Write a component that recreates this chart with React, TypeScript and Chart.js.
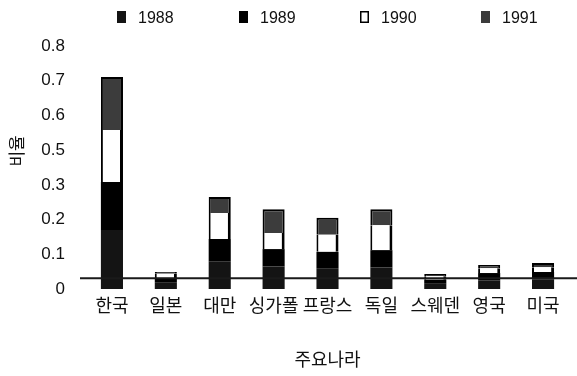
import { useEffect, useRef } from 'react';
import { Chart, registerables } from 'chart.js';

Chart.register(...registerables);

// Categories (countries) and series (years)
const categories = ['한국', '일본', '대만', '싱가폴', '프랑스', '독일', '스웨덴', '영국', '미국'];
const seriesLabels = ['1988', '1989', '1990', '1991'];

// Segment heights in the evenly spaced axis units
// (the original axis labels skip "0.4", so labels above 0.3 are offset by one step)
const values1988 = [0.17, 0.018, 0.08, 0.065, 0.06, 0.062, 0.015, 0.025, 0.027];
const values1989 = [0.138, 0.014, 0.064, 0.05, 0.047, 0.05, 0.012, 0.021, 0.022];
const values1990 = [0.15, 0.012, 0.075, 0.046, 0.049, 0.072, 0.01, 0.014, 0.014];
const values1991 = [0.153, 0.005, 0.046, 0.069, 0.049, 0.046, 0.006, 0.009, 0.012];

// Tick labels exactly as printed on the original (0.4 is missing)
const yTickLabels = ['0', '0.1', '0.2', '0.3', '0.5', '0.6', '0.7', '0.8'];

const yAxisTitle = '비율';
const xAxisTitle = '주요나라';

const FONT = "'Liberation Sans', Arial, 'Noto Sans CJK KR', sans-serif";
const AXIS_LINE_VALUE = 0.031;

const quarterLegend = {
  id: 'quarterLegend',
  afterDraw(chart: any) {
    const { ctx, chartArea } = chart;
    const datasets = chart.data.datasets;
    const n = datasets.length;
    const w = (chartArea.right - chartArea.left) / n;
    const boxW = 9;
    const boxH = 12;
    const gap = 12;
    ctx.save();
    ctx.font = `16px ${FONT}`;
    ctx.textBaseline = 'middle';
    ctx.textAlign = 'left';
    datasets.forEach((ds: any, i: number) => {
      const tw = ctx.measureText(ds.label).width;
      const itemW = boxW + gap + tw;
      const x0 = Math.round(chartArea.left + (i + 0.5) * w - itemW / 2);
      ctx.fillStyle = ds.backgroundColor;
      ctx.fillRect(x0, 11, boxW, boxH);
      if (ds.legendStroke) {
        ctx.strokeStyle = '#000';
        ctx.lineWidth = 1.5;
        ctx.strokeRect(x0 + 0.75, 11.75, boxW - 1.5, boxH - 1.5);
      }
      ctx.fillStyle = '#111';
      ctx.fillText(ds.label, x0 + boxW + gap, 19);
    });
    ctx.restore();
  },
};

const axisLine = {
  id: 'axisLine',
  afterDatasetsDraw(chart: any) {
    const { ctx, chartArea, scales } = chart;
    const y = scales.y.getPixelForValue(AXIS_LINE_VALUE);
    ctx.save();
    ctx.strokeStyle = '#1a1a1a';
    ctx.lineWidth = 2;
    ctx.beginPath();
    ctx.moveTo(chartArea.left - 5, y);
    ctx.lineTo(chart.width, y);
    ctx.stroke();
    ctx.restore();
  },
};

export default function App() {
  const ref = useRef<HTMLCanvasElement | null>(null);

  useEffect(() => {
    document.body.style.margin = '0';
    const canvas = ref.current;
    if (!canvas) return;
    const chart = new Chart(canvas, {
      type: 'bar',
      data: {
        labels: categories,
        datasets: [
          {
            label: seriesLabels[0],
            data: values1988,
            backgroundColor: '#141414',
            borderWidth: 0,
          },
          {
            label: seriesLabels[1],
            data: values1989,
            backgroundColor: '#000000',
            borderWidth: 0,
          },
          {
            label: seriesLabels[2],
            data: values1990,
            backgroundColor: '#ffffff',
            borderColor: '#000000',
            borderWidth: { left: 2, right: 3, top: 0, bottom: 0 },
            legendStroke: true,
          } as any,
          {
            label: seriesLabels[3],
            data: values1991,
            backgroundColor: '#3c3c3c',
            borderColor: '#000000',
            borderWidth: { left: 2, right: 2, top: 2, bottom: 0 },
          },
        ],
      },
      options: {
        animation: false,
        responsive: false,
        devicePixelRatio: 1,
        layout: { padding: { top: 46, right: 7, left: 0, bottom: 0 } },
        datasets: {
          bar: { categoryPercentage: 1, barPercentage: 0.41 },
        },
        plugins: {
          legend: { display: false },
          tooltip: { enabled: false },
        },
        scales: {
          x: {
            stacked: true,
            grid: { display: false, drawTicks: false },
            border: { display: false },
            afterFit: (scale: any) => {
              scale.height = 87;
            },
            ticks: {
              color: '#111',
              padding: 7,
              maxRotation: 0,
              autoSkip: false,
              font: { family: FONT, size: 18 },
            },
            title: {
              display: true,
              text: xAxisTitle,
              color: '#111',
              font: { family: FONT, size: 18 },
              padding: { top: 30, bottom: 4 },
            },
          },
          y: {
            stacked: true,
            min: 0,
            max: 0.7,
            grid: { display: false, drawTicks: false },
            border: { display: false },
            afterFit: (scale: any) => {
              scale.width = 85;
            },
            ticks: {
              stepSize: 0.1,
              color: '#111',
              padding: 20,
              font: { family: FONT, size: 17 },
              callback: (_v: any, index: number) => yTickLabels[index] ?? '',
            },
            title: {
              display: true,
              text: '\u00a0\u00a0\u00a0\u00a0\u00a0\u00a0\u00a0' + yAxisTitle,
              color: '#111',
              font: { family: FONT, size: 17 },
              padding: { top: 8, bottom: 0 },
            },
          },
        },
      },
      plugins: [quarterLegend, axisLine],
    });
    return () => chart.destroy();
  }, []);

  return (
    <div style={{ width: 577, height: 376, background: '#fff' }}>
      <canvas ref={ref} width={577} height={376} style={{ display: 'block' }} />
    </div>
  );
}
